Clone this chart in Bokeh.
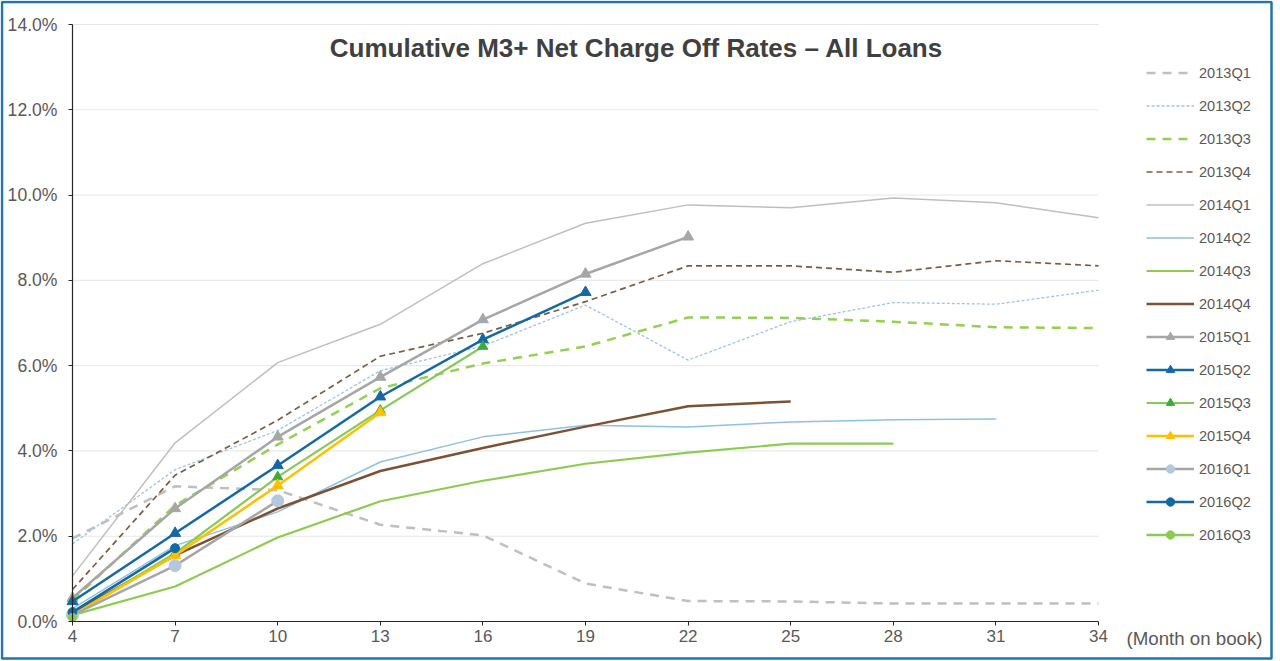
from bokeh.plotting import figure
from bokeh.models import (Range1d, Label, PrintfTickFormatter, FixedTicker,
                          BoxAnnotation, Legend, LegendItem)
from bokeh.embed import file_html
from bokeh.resources import INLINE

months = [4, 7, 10, 13, 16, 19, 22, 25, 28, 31, 34]
month_labels = ["4", "7", "10", "13", "16", "19", "22", "25", "28", "31", "34"]
y_ticks = [0, 2, 4, 6, 8, 10, 12, 14]

s2013Q1 = [1.95, 3.17, 3.08, 2.27, 2.02, 0.89, 0.48, 0.47, 0.42, 0.42, 0.42]
s2013Q2 = [1.82, 3.56, 4.48, 5.88, 6.46, 7.42, 6.13, 7.03, 7.48, 7.44, 7.77]
s2013Q3 = [0.50, 2.72, 4.15, 5.47, 6.05, 6.45, 7.13, 7.12, 7.03, 6.90, 6.88]
s2013Q4 = [0.75, 3.43, 4.72, 6.22, 6.76, 7.50, 8.34, 8.34, 8.19, 8.46, 8.34]
s2014Q1 = [1.07, 4.19, 6.07, 6.97, 8.39, 9.34, 9.77, 9.70, 9.93, 9.82, 9.47]
s2014Q2 = [0.30, 1.78, 2.57, 3.74, 4.33, 4.60, 4.56, 4.68, 4.73, 4.75]
s2014Q3 = [0.15, 0.82, 1.97, 2.82, 3.30, 3.70, 3.96, 4.17, 4.17]
s2014Q4 = [0.20, 1.55, 2.65, 3.53, 4.07, 4.57, 5.05, 5.16]
s2015Q1 = [0.55, 2.65, 4.33, 5.73, 7.08, 8.15, 9.02]
s2015Q2 = [0.47, 2.07, 3.66, 5.27, 6.61, 7.72]
s2015Q3 = [0.15, 1.60, 3.39, 4.95, 6.45]
s2015Q4 = [0.15, 1.55, 3.19, 4.90]
s2016Q1 = [0.15, 1.31, 2.83]
s2016Q2 = [0.22, 1.72]
s2016Q3 = [0.10]

# layout constants (canvas pixels)
W, H = 1280, 661
PX_X0, PX_X1 = 72, 1098      # pixel of month 4 and month 34
PX_Y0, PX_Y1 = 621, 24       # pixel of 0% and 14%
kx = (PX_X1 - PX_X0) / (34 - 4)
ky = (PX_Y0 - PX_Y1) / (14 - 0)

def dx(px):
    return 4 + (px - PX_X0) / kx

def dy(py):
    return (PX_Y0 - py) / ky

p = figure(width=W, height=H, output_backend="svg", toolbar_location=None,
           x_range=Range1d(dx(0), dx(W)), y_range=Range1d(dy(H), dy(0)),
           min_border_left=0, min_border_right=0, min_border_top=0,
           min_border_bottom=0)
p.background_fill_color = "white"
p.border_fill_color = "white"
p.outline_line_color = None
p.xgrid.visible = False
p.ygrid.visible = False

# horizontal grid lines from the tick list, bounded to the axis extent
p.segment(x0=[months[0]] * (len(y_ticks) - 1), x1=[months[-1]] * (len(y_ticks) - 1),
          y0=y_ticks[1:], y1=y_ticks[1:], line_color="#E6E6E6", line_width=1)

p.xaxis.ticker = FixedTicker(ticks=months)
p.xaxis.major_label_overrides = {m: l for m, l in zip(months, month_labels)}
p.xaxis.fixed_location = 0
p.xaxis.bounds = (months[0], months[-1])
p.yaxis.ticker = FixedTicker(ticks=y_ticks)
p.yaxis.formatter = PrintfTickFormatter(format="%.1f%%")
p.yaxis.fixed_location = months[0]
p.yaxis.bounds = (y_ticks[0], y_ticks[-1])
for ax in (p.xaxis, p.yaxis):
    ax.axis_line_color = "#262626"
    ax.axis_line_width = 1.2
    ax.major_tick_line_color = "#262626"
    ax.major_tick_in = 0
    ax.major_tick_out = 4
    ax.minor_tick_line_color = None
    ax.major_label_text_font = "Liberation Sans"
    ax.major_label_text_color = "#595959"
p.xaxis.major_label_text_font_size = "17px"
p.yaxis.major_label_text_font_size = "17.6px"
p.yaxis.major_label_standoff = 11
p.xaxis.major_label_standoff = 4

items = []

def add(name, vals, color, width, dash="solid", marker=None, mcolor=None, msize=10):
    xs = months[:len(vals)]
    rs = [p.line(xs, vals, line_color=color, line_width=width, line_dash=dash)]
    if marker:
        rs.append(p.scatter(xs, vals, marker=marker, size=msize,
                            fill_color=mcolor or color, line_color=mcolor or color))
    items.append(LegendItem(label=name, renderers=rs))

add("2013Q1", s2013Q1, "#BFBFBF", 2.5, "9 7")
add("2013Q2", s2013Q2, "#9DC3E6", 1.3, "3 2")
add("2013Q3", s2013Q3, "#92D050", 2.5, "9 7")
add("2013Q4", s2013Q4, "#7A5C45", 1.7, "6 4")
add("2014Q1", s2014Q1, "#BFBFBF", 1.5)
add("2014Q2", s2014Q2, "#8EC1E2", 1.5)
add("2014Q3", s2014Q3, "#8CCB50", 2.2)
add("2014Q4", s2014Q4, "#7B5235", 2.5)
add("2015Q1", s2015Q1, "#A6A6A6", 2.5, marker="triangle", msize=11)
add("2015Q2", s2015Q2, "#1469A3", 2.5, marker="triangle", msize=11)
add("2015Q3", s2015Q3, "#86C95A", 2.2, marker="triangle", mcolor="#3FAA3A", msize=10)
add("2015Q4", s2015Q4, "#FFC000", 2.5, marker="triangle", msize=11)
add("2016Q1", s2016Q1, "#A6A6A6", 2.5, marker="circle", mcolor="#B4C7DC", msize=12)
add("2016Q2", s2016Q2, "#1469A3", 2.5, marker="circle", msize=9)
add("2016Q3", s2016Q3, "#8CCB50", 2.5, marker="circle", msize=8)

n_items = len(items)
legend = Legend(items=items)
legend.border_line_color = None
legend.background_fill_alpha = 0
legend.padding = 0
legend.margin = 0
legend.spacing = 12
legend.glyph_width = 48
legend.glyph_height = 21
legend.label_height = 21
legend.label_standoff = 5
legend.label_text_font = "Liberation Sans"
legend.label_text_font_size = "14.6px"
legend.label_text_color = "#595959"
leg_h = n_items * 21 + (n_items - 1) * 12
leg_top = 73 - 10.5
legend.location = (1146, int(round(H - (leg_top + leg_h))))
p.add_layout(legend)

title = Label(x=dx(636), y=dy(47), text="Cumulative M3+ Net Charge Off Rates \u2013 All Loans",
              text_align="center", text_baseline="middle",
              text_font="Liberation Sans", text_font_style="bold",
              text_font_size="26px", text_color="#404040")
p.add_layout(title)

xlab = Label(x=dx(1126), y=dy(638), text="(Month on book)", text_align="left",
             text_baseline="middle", text_font="Liberation Sans",
             text_font_size="18.7px", text_color="#595959")
p.add_layout(xlab)

frame = BoxAnnotation(left=dx(1.5), right=dx(1271), top=dy(1.5), bottom=dy(658),
                      fill_alpha=0, line_color="#1E76AB", line_alpha=1.0,
                      line_width=2.5)
p.add_layout(frame)

open("out.html", "w").write(file_html(p, INLINE))
